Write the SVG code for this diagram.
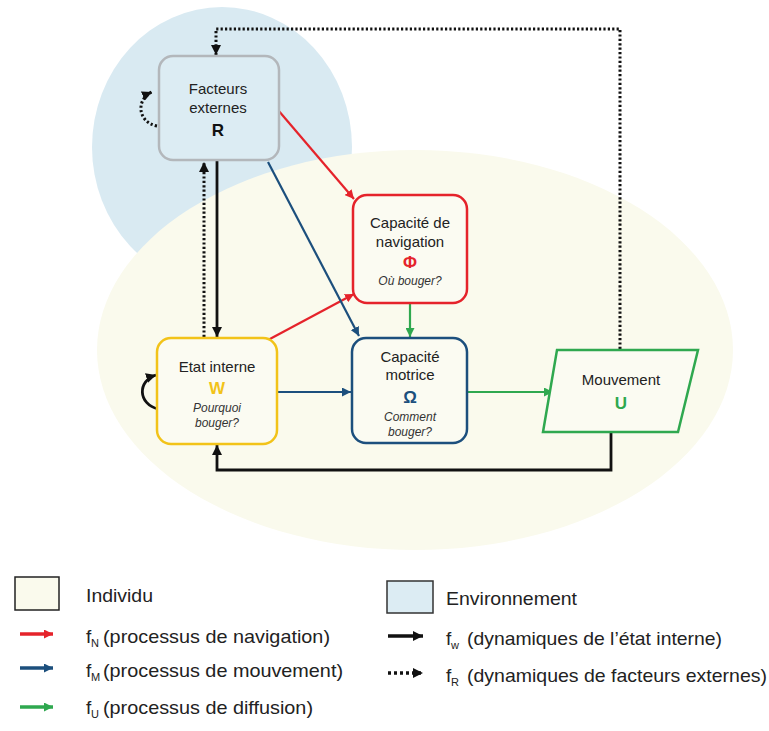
<svg xmlns="http://www.w3.org/2000/svg" width="769" height="731" viewBox="0 0 769 731">
<style>
text{font-family:"Liberation Sans",Arial,sans-serif;fill:#222}
.t{font-size:15px;text-anchor:middle}
.i{font-size:12px;font-style:italic;text-anchor:middle;fill:#333}
.g{font-size:17px;font-weight:bold;text-anchor:middle}
.lg{font-size:19px}
.sub{font-size:11px}
.box{stroke-width:2.5}
.c{fill:none;stroke-width:2.2}
.red{stroke:#e5232b}
.blue{stroke:#1c4f7d}
.green{stroke:#2fa84f}
.blk{stroke:#111;stroke-width:2.8}
.dot{stroke:#111;stroke-width:3;stroke-dasharray:2.2 2.2}
</style>
<defs>
<marker id="mR" viewBox="0 0 10 10" refX="10" refY="5" markerWidth="9" markerHeight="9" markerUnits="userSpaceOnUse" orient="auto"><path d="M0,0L10,5L0,10z" fill="#e5232b"/></marker>
<marker id="mB" viewBox="0 0 10 10" refX="10" refY="5" markerWidth="9" markerHeight="9" markerUnits="userSpaceOnUse" orient="auto"><path d="M0,0L10,5L0,10z" fill="#1c4f7d"/></marker>
<marker id="mG" viewBox="0 0 10 10" refX="10" refY="5" markerWidth="9" markerHeight="9" markerUnits="userSpaceOnUse" orient="auto"><path d="M0,0L10,5L0,10z" fill="#2fa84f"/></marker>
<marker id="mK" viewBox="0 0 10 10" refX="10" refY="5" markerWidth="10" markerHeight="10" markerUnits="userSpaceOnUse" orient="auto"><path d="M0,0L10,5L0,10z" fill="#111"/></marker>
</defs>

<g id="backgrounds">
<ellipse cx="222" cy="147" rx="130" ry="140" fill="#d9eaf2"/>
<ellipse cx="415" cy="350" rx="318" ry="200" fill="#fafaed"/>
</g>

<g id="connectors">
<line class="c red" x1="278" y1="110" x2="354" y2="199" marker-end="url(#mR)"/>
<line class="c red" x1="268" y1="340" x2="354" y2="294" marker-end="url(#mR)"/>
<line class="c green" x1="410" y1="304" x2="410" y2="337" marker-end="url(#mG)"/>
<line class="c blue" x1="268" y1="162" x2="359" y2="336" marker-end="url(#mB)"/>
<line class="c blue" x1="278" y1="392" x2="351" y2="392" marker-end="url(#mB)"/>
<line class="c green" x1="468" y1="392" x2="553" y2="392" marker-end="url(#mG)"/>
<line class="c blk" x1="217" y1="161" x2="217" y2="337" marker-end="url(#mK)"/>
<line class="c dot" x1="204" y1="337" x2="204" y2="162" marker-end="url(#mK)"/>
<path class="c dot" d="M620,349V29H216V55" marker-end="url(#mK)"/>
<path class="c blk" d="M611,433V470H217V445" marker-end="url(#mK)"/>
<path class="c dot" d="M157,126C137,122 136,99 152,92" marker-end="url(#mK)"/>
<path class="c blk" d="M158,409C138,404 137,381 156,375" marker-end="url(#mK)"/>
</g>

<g id="node-R">
<rect class="box" x="159" y="56" width="120" height="104" rx="14" fill="#dcecf3" stroke="#b3b7bb"/>
<text class="t" x="218" y="94">Facteurs</text>
<text class="t" x="218" y="113">externes</text>
<text class="g" x="218" y="136" style="fill:#111">R</text>
</g>

<g id="node-Phi">
<rect class="box" x="353" y="195" width="114" height="108" rx="14" fill="#fbfbf2" stroke="#e5232b"/>
<text class="t" x="410" y="228">Capacité de</text>
<text class="t" x="410" y="247">navigation</text>
<text class="g" x="410" y="268" style="fill:#e5232b">Φ</text>
<text class="i" x="410" y="285">Où bouger?</text>
</g>

<g id="node-W">
<rect class="box" x="157" y="338" width="120" height="106" rx="14" fill="#fbfbf2" stroke="#f2c319"/>
<text class="t" x="217" y="372">Etat interne</text>
<text class="g" x="217" y="394" style="fill:#f2c319">W</text>
<text class="i" x="217" y="412">Pourquoi</text>
<text class="i" x="217" y="427">bouger?</text>
</g>

<g id="node-Omega">
<rect class="box" x="352" y="338" width="115" height="105" rx="14" fill="#fbfbf2" stroke="#1c4f7d"/>
<text class="t" x="410" y="362">Capacité</text>
<text class="t" x="410" y="380">motrice</text>
<text class="g" x="410" y="403" style="fill:#1c4f7d">Ω</text>
<text class="i" x="410" y="421">Comment</text>
<text class="i" x="410" y="436">bouger?</text>
</g>

<g id="node-U">
<polygon class="box" points="557,350 698,350 678,432 543,432" fill="#fbfbf2" stroke="#2fa84f"/>
<text class="t" x="621" y="385">Mouvement</text>
<text class="g" x="621" y="409" style="fill:#2fa84f">U</text>
</g>

<g id="legend">
<rect x="15" y="577" width="44" height="33" fill="#fafaed" stroke="#222" stroke-width="1.5"/>
<text class="lg" x="86" y="602" textLength="67" lengthAdjust="spacingAndGlyphs">Individu</text>
<line x1="20" y1="634" x2="53" y2="634" stroke="#e5232b" stroke-width="3.5" marker-end="url(#mR)"/>
<text class="lg" x="86" y="643">f<tspan class="sub" x="91" dy="4">N</tspan><tspan x="103" dy="-4" textLength="227" lengthAdjust="spacingAndGlyphs">(processus de navigation)</tspan></text>
<line x1="20" y1="668" x2="53" y2="668" stroke="#1c4f7d" stroke-width="3.5" marker-end="url(#mB)"/>
<text class="lg" x="86" y="677">f<tspan class="sub" x="91" dy="4">M</tspan><tspan x="103" dy="-4" textLength="240" lengthAdjust="spacingAndGlyphs">(processus de mouvement)</tspan></text>
<line x1="20" y1="707" x2="53" y2="707" stroke="#2fa84f" stroke-width="3.5" marker-end="url(#mG)"/>
<text class="lg" x="86" y="714">f<tspan class="sub" x="91" dy="4">U</tspan><tspan x="103" dy="-4" textLength="210" lengthAdjust="spacingAndGlyphs">(processus de diffusion)</tspan></text>

<rect x="387" y="581" width="46" height="32" fill="#dcecf3" stroke="#333" stroke-width="1.5"/>
<text class="lg" x="446" y="605" textLength="131" lengthAdjust="spacingAndGlyphs">Environnement</text>
<line x1="388" y1="636" x2="423" y2="636" stroke="#111" stroke-width="3.5" marker-end="url(#mK)"/>
<text class="lg" x="446" y="645">f<tspan class="sub" x="451" dy="4">w</tspan><tspan x="467" dy="-4" textLength="255" lengthAdjust="spacingAndGlyphs">(dynamiques de l’état interne)</tspan></text>
<line x1="388" y1="673" x2="423" y2="673" stroke="#111" stroke-width="3.5" stroke-dasharray="3 3" marker-end="url(#mK)"/>
<text class="lg" x="446" y="682">f<tspan class="sub" x="451" dy="4">R</tspan><tspan x="467" dy="-4" textLength="300" lengthAdjust="spacingAndGlyphs">(dynamiques de facteurs externes)</tspan></text>
</g>
</svg>
